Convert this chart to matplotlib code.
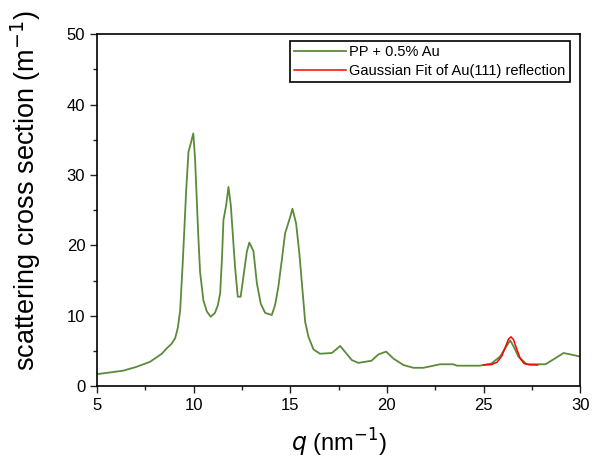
import matplotlib.pyplot as plt
import numpy as np

plt.rcParams['font.family'] = ['Liberation Sans', 'DejaVu Sans']

# measured scattering curve, PP + 0.5% Au
q_pp = [5.0, 5.7, 6.36, 7.0, 7.74, 8.35, 8.6, 8.85, 9.04, 9.18, 9.3, 9.43, 9.52,
        9.61, 9.73, 9.85, 9.98, 10.07, 10.16, 10.24, 10.33, 10.5, 10.68, 10.88,
        11.1, 11.25, 11.37, 11.46, 11.54, 11.68, 11.8, 11.92, 12.02, 12.14,
        12.28, 12.43, 12.57, 12.75, 12.88, 13.09, 13.27, 13.47, 13.7, 14.04,
        14.21, 14.38, 14.56, 14.73, 14.99, 15.11, 15.3, 15.47, 15.63, 15.77,
        15.94, 16.2, 16.54, 17.15, 17.58, 18.18, 18.52, 19.2, 19.56,
        19.96, 20.34, 20.85, 21.37, 21.89, 22.75, 23.44, 23.62, 24.8, 25.4,
        25.86, 26.1, 26.38, 26.6, 26.8, 27.24, 28.2, 28.62, 29.14, 29.5, 29.83, 30.0]
s_pp = [1.7, 1.95, 2.2, 2.7, 3.45, 4.6, 5.35, 6.0, 6.8, 8.3, 10.8, 17.4, 22.5,
        27.8, 33.3, 34.5, 35.9, 32.3, 26.4, 21.2, 16.2, 12.2, 10.6, 9.85,
        10.4, 11.5, 13.2, 18.0, 23.6, 25.7, 28.3, 25.7, 21.7, 16.9,
        12.7, 12.7, 15.5, 19.1, 20.4, 19.2, 14.6, 11.7, 10.4, 10.1,
        11.5, 14.1, 17.9, 21.7, 24.0, 25.2, 23.1, 18.8, 13.6, 9.1,
        7.0, 5.2, 4.6, 4.7, 5.7, 3.7, 3.3, 3.6, 4.5,
        4.9, 3.9, 3.0, 2.6, 2.6, 3.1, 3.1, 2.9, 2.9, 3.2,
        4.2, 5.3, 6.5, 5.4, 4.2, 3.1, 3.1, 3.8, 4.7, 4.5, 4.3, 4.2]

# Gaussian fit of the Au(111) reflection
q_fit = [25.0, 25.4, 25.7, 25.95, 26.15, 26.3, 26.42, 26.55, 26.7, 26.9,
         27.1, 27.4, 27.8]
s_fit = [3.0, 3.05, 3.4, 4.3, 5.7, 6.7, 7.0, 6.6, 5.4, 3.9, 3.2, 3.02, 3.0]

fig = plt.figure(figsize=(5.92, 4.68), dpi=100)
ax = fig.add_axes([0.164, 0.175, 0.816, 0.752])

ax.plot(q_pp, s_pp, color='#5b8a3a', lw=1.3, label='PP + 0.5% Au')
ax.plot(q_fit, s_fit, color='#ff0000', lw=1.1, label='Gaussian Fit of Au(111) reflection')

ax.set_xlim(5, 30)
ax.set_ylim(0, 50)
ax.set_xticks(np.arange(5, 31, 5))
ax.set_xticks(np.arange(7.5, 30, 5), minor=True)
ax.set_yticks(np.arange(0, 51, 10))
ax.set_yticks(np.arange(5, 50, 10), minor=True)
ax.tick_params(which='both', direction='out', top=False, right=False,
               labelsize=12, color='#222222')
ax.tick_params(which='major', length=5, width=1)
ax.tick_params(which='minor', length=3, width=1)
for sp in ax.spines.values():
    sp.set_linewidth(1.2)

ax.set_xlabel(r'$q$ (nm$^{-1}$)', fontsize=17, labelpad=10)
ax.set_ylabel(r'scattering cross section (m$^{-1}$)', fontsize=19.5)
ax.yaxis.set_label_coords(-0.112, 0.557)

leg = ax.legend(loc='upper right', fontsize=10.5, handlelength=3.6,
                fancybox=False, edgecolor='black', framealpha=1,
                borderpad=0.3, labelspacing=0.35, handletextpad=0.2,
                borderaxespad=0.2, bbox_to_anchor=(0.985, 0.99))
leg.get_frame().set_linewidth(1.2)

fig.savefig('out.png', dpi=100)
